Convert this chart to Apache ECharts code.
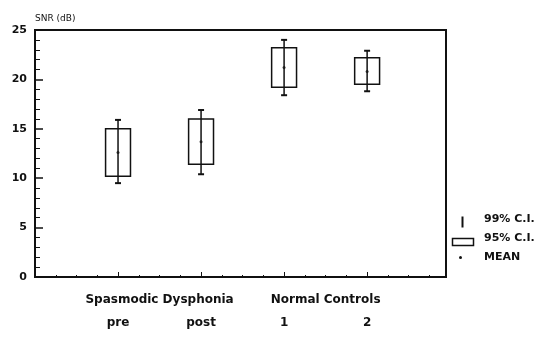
<!DOCTYPE html>
<html>
<head>
<meta charset="utf-8">
<script src="https://cdn.jsdelivr.net/npm/echarts@6/dist/echarts.min.js"></script>
<style>
  html, body { margin: 0; padding: 0; background: #fff; }
  #main { width: 549px; height: 337px; }
</style>
</head>
<body>
<div id="main"></div>
<script>
// data
var groupNames = ['Spasmodic Dysphonia', 'Normal Controls'];
var groupPos = [1.5, 3.5];
var subLabels = ['pre', 'post', '1', '2'];
var xPos = [1, 2, 3, 4];
var ci99Low = [9.5, 10.4, 18.4, 18.8];
var ci99High = [15.9, 16.9, 24.0, 22.9];
var ci95Low = [10.2, 11.4, 19.2, 19.5];
var ci95High = [15.0, 16.0, 23.2, 22.2];
var means = [12.6, 13.7, 21.2, 20.8];

var FONT = 'DejaVu Sans';
var INK = '#111';

window.onload = function () {
    var chart = echarts.init(document.getElementById('main'));

    var boxData = xPos.map(function (x, i) { return [x, ci95Low[i], ci95High[i]]; });
    var whiskData = xPos.map(function (x, i) { return [x, ci99Low[i], ci99High[i]]; });
    var meanData = xPos.map(function (x, i) { return [x, means[i]]; });

    var txt = { color: INK, fontFamily: FONT, fontSize: 12, fontWeight: 'bold' };

    var option = {
        backgroundColor: '#fff',
        animation: false,
        grid: {
            left: 35, right: 103, top: 30, bottom: 60,
            show: true, borderColor: INK, borderWidth: 2, backgroundColor: 'transparent'
        },
        xAxis: [{
            type: 'value', min: 0, max: 4.95, interval: 1,
            axisLine: { show: true, onZero: false, lineStyle: { color: INK, width: 1.5 } },
            axisTick: { show: true, inside: true, length: 5, lineStyle: { color: INK } },
            minorTick: { show: true, splitNumber: 4, length: 2, lineStyle: { color: INK } },
            splitLine: { show: false },
            axisLabel: Object.assign({
                margin: 40,
                customValues: xPos,
                formatter: function (v) { return subLabels[xPos.indexOf(v)] || ''; }
            }, txt)
        }, {
            type: 'value', min: 0, max: 4.95, position: 'bottom',
            axisLine: { show: false }, axisTick: { show: false }, splitLine: { show: false },
            axisLabel: Object.assign({
                margin: 17,
                customValues: groupPos,
                formatter: function (v) { return groupNames[groupPos.indexOf(v)] || ''; }
            }, txt)
        }],
        yAxis: {
            type: 'value', min: 0, max: 25, interval: 5,
            name: 'SNR (dB)', nameLocation: 'end', nameGap: 7,
            nameTextStyle: { color: INK, fontFamily: FONT, fontSize: 9, align: 'left' },
            axisLine: { show: true, lineStyle: { color: INK, width: 2 } },
            axisTick: { show: true, inside: true, length: 8, lineStyle: { color: INK, width: 1.5 } },
            minorTick: { show: true, splitNumber: 5, length: 5, lineStyle: { color: INK } },
            splitLine: { show: false },
            axisLabel: Object.assign({ margin: 8 }, txt, { fontSize: 11 })
        },
        series: [{
            type: 'custom',
            name: '99% C.I.',
            data: whiskData,
            renderItem: function (params, api) {
                var lo = api.coord([api.value(0), api.value(1)]);
                var hi = api.coord([api.value(0), api.value(2)]);
                var cap = 3;
                return {
                    type: 'group',
                    children: [
                        { type: 'line', shape: { x1: lo[0], y1: lo[1], x2: hi[0], y2: hi[1] }, style: { stroke: INK, lineWidth: 1.5 } },
                        { type: 'line', shape: { x1: lo[0] - cap, y1: lo[1], x2: lo[0] + cap, y2: lo[1] }, style: { stroke: INK, lineWidth: 2 } },
                        { type: 'line', shape: { x1: hi[0] - cap, y1: hi[1], x2: hi[0] + cap, y2: hi[1] }, style: { stroke: INK, lineWidth: 2 } }
                    ]
                };
            },
            z: 3
        }, {
            type: 'custom',
            name: '95% C.I.',
            data: boxData,
            renderItem: function (params, api) {
                var lo = api.coord([api.value(0), api.value(1)]);
                var hi = api.coord([api.value(0), api.value(2)]);
                var w = api.size([0.3, 0])[0];
                return {
                    type: 'rect',
                    shape: { x: lo[0] - w / 2, y: hi[1], width: w, height: lo[1] - hi[1] },
                    style: { fill: 'none', stroke: INK, lineWidth: 1.5 }
                };
            },
            z: 2
        }, {
            type: 'scatter',
            name: 'MEAN',
            data: meanData,
            symbol: 'circle',
            symbolSize: 3,
            itemStyle: { color: INK },
            z: 4
        }],
        graphic: [
            { type: 'line', left: 460, top: 214, shape: { x1: 0, y1: 0, x2: 0, y2: 11 }, style: { stroke: INK, lineWidth: 2 } },
            { type: 'text', left: 484, top: 214, style: { text: '99% C.I.', fill: INK, font: 'bold 11px ' + FONT } },
            { type: 'rect', left: 450, top: 236, shape: { x: 0, y: 0, width: 21, height: 7 }, style: { fill: 'none', stroke: INK, lineWidth: 1.5 } },
            { type: 'text', left: 484, top: 233, style: { text: '95% C.I.', fill: INK, font: 'bold 11px ' + FONT } },
            { type: 'circle', left: 459, top: 256, shape: { r: 1.5 }, style: { fill: INK } },
            { type: 'text', left: 484, top: 252, style: { text: 'MEAN', fill: INK, font: 'bold 11px ' + FONT } }
        ]
    };

    chart.setOption(option);
};
</script>
</body>
</html>
